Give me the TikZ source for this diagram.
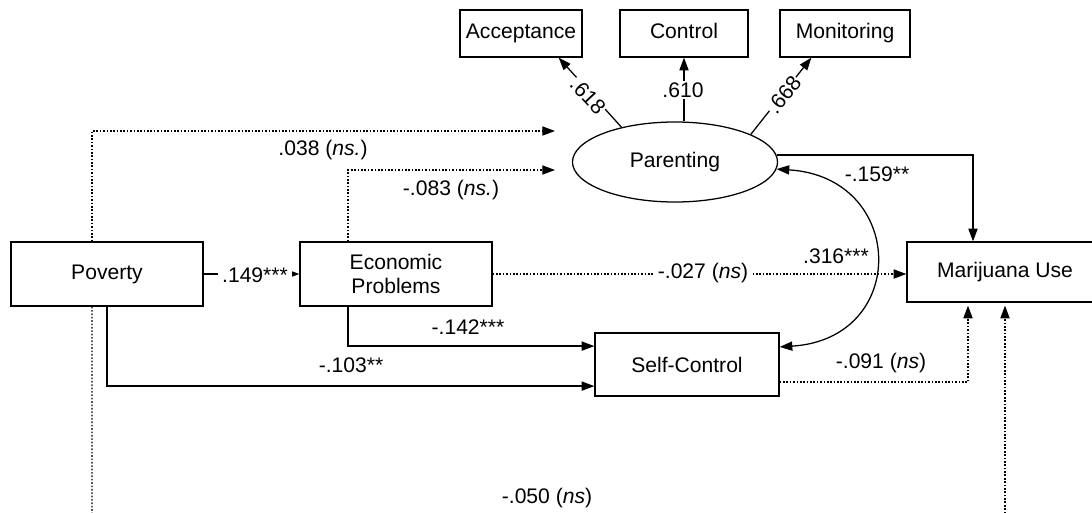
\documentclass[tikz,border=0pt]{standalone}
\usepackage{fontspec}
\setmainfont{Liberation Sans}
\usetikzlibrary{arrows.meta, shapes}

\tikzset{
    box/.style={draw, align=center, inner sep=2pt, font=\fontsize{15}{17.5}\selectfont},
    topbox/.style={box, text height=0.72em, text depth=0.05em, minimum height=1.175cm},
    lbl/.style={inner sep=1pt, font=\fontsize{15}{17.5}\selectfont},
    nsline/.style={dash pattern=on 1.2pt off 1.2pt},
}

\begin{document}
\begin{tikzpicture}[x=0.025cm, y=-0.025cm, line width=0.9pt, >={Triangle[length=9pt,width=6.5pt]}]
    \useasboundingbox (0,0) rectangle (1092,513);

    \node[topbox, minimum width=3.05cm] (acc) at (521,33.5) {Acceptance};
    \node[topbox, minimum width=3.2cm] (ctrl) at (684,33.5) {Control};
    \node[topbox, minimum width=3.25cm] (mon) at (845,33.5) {Monitoring};
    \node[box, ellipse, minimum width=5.125cm, minimum height=2cm] (par) at (675,162) {Parenting};
    \node[box, minimum width=4.8cm, minimum height=1.6cm] (pov) at (107,274) {Poverty};
    \node[box, minimum width=4.8cm, minimum height=1.6cm] (econ) at (396,274) {Economic\\Problems};
    \node[box, minimum width=4.9cm, minimum height=1.5cm] (mj) at (1005,272) {Marijuana Use};
    \node[box, minimum width=4.6cm, minimum height=1.575cm] (self) at (687,364.5) {Self-Control};

    \coordinate (t1) at (555,131);
    \coordinate (t2) at (555,170);
    \coordinate (b1) at (92,520);
    \coordinate (b2) at (1005,520);

    % loadings
    \draw[->] (par.147) -- ([xshift=-0.6cm]acc.south east);
    \draw[->] (par.north -| ctrl.south) -- (ctrl.south);
    \draw[->] (par.20) -- ([xshift=0.8cm]mon.south west);
    \node[lbl, fill=white, inner sep=0.5pt, rotate=-47] (l618) at (588,96) {.618};
    \node[lbl, fill=white] (l610) at (683,90) {.610};
    \node[lbl, fill=white, inner sep=0.5pt, rotate=51] (l668) at (784,95) {.668};

    \draw[->, nsline] ([xshift=-0.375cm]pov.north) |- (t1);
    \draw[->, nsline] ([xshift=-1.2cm]econ.north) |- (t2);
    \node[lbl] (l038) at (323,150) {.038 (\textit{ns.})};
    \node[lbl] (l083) at (451,190) {-.083 (\textit{ns.})};

    \draw[->] (pov) -- (econ);
    \node[lbl, fill=white, inner xsep=3pt] (l149) at (255,275) {.149***};
    \draw[->, nsline] (econ.east) -- (econ.east -| mj.west);
    \node[lbl, fill=white, inner xsep=3pt] (l027) at (703,273) {-.027 (\textit{ns})};

    \draw[->] ([xshift=-1.2cm]econ.south) |- ([yshift=0.46cm]self.west);
    \node[lbl] (l142) at (468,327) {-.142***};
    \draw[->] (pov.south) |- ([yshift=-0.54cm]self.west);
    \node[lbl] (l103) at (351,365) {-.103**};

    \draw[->] (par.4) -| ([xshift=-0.8cm]mj.north);
    \node[lbl] (l159) at (877,174) {-.159**};
    \draw[<->] (par.-4) .. controls +(130,8) and +(130,-8) .. ([yshift=0.44cm]self.east);
    \node[lbl] (l316) at (836,256) {.316***};

    \draw[->, nsline, shorten >=0.075cm] ([yshift=-0.44cm]self.east) -| ([xshift=-0.925cm]mj.south);
    \node[lbl] (l091) at (881,363) {-.091 (\textit{ns})};
    \draw[nsline] ([xshift=-0.375cm]pov.south) -- (b1);
    \draw[->, nsline, shorten >=0.075cm] (b2) -- (mj.south);
    \node[lbl] (l050) at (547,498) {-.050 (\textit{ns})};
\end{tikzpicture}
\end{document}
